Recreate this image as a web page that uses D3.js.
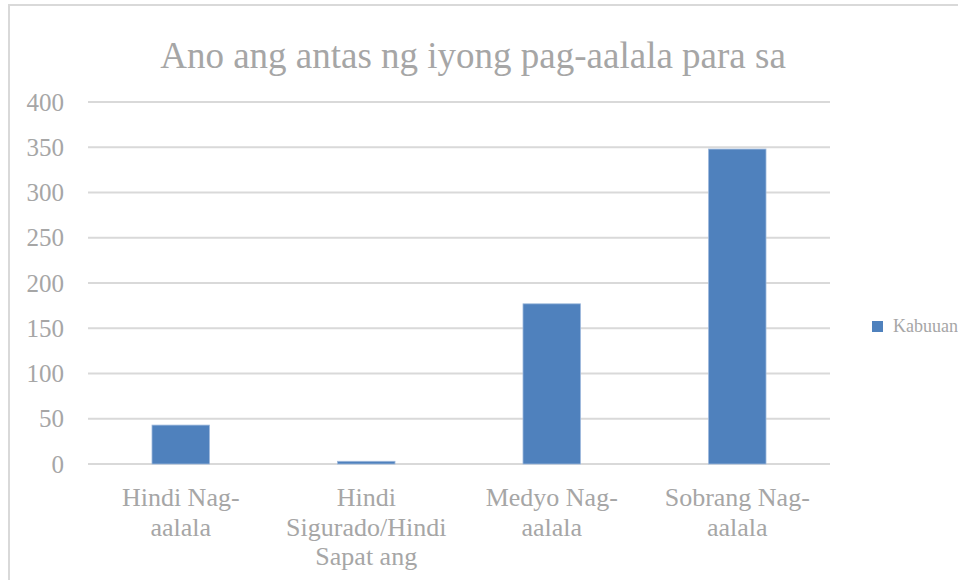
<!DOCTYPE html>
<html><head><meta charset="utf-8">
<script src="https://cdn.jsdelivr.net/npm/d3@7"></script>
<style>
html,body{margin:0;padding:0;background:#fff;}
svg{display:block;}
svg text{font-family:"Liberation Serif","Times New Roman",Times,serif;}
</style>
</head><body>
<svg id="chart" width="958" height="580"></svg>
<script>
const title = "Ano ang antas ng iyong pag-aalala para sa";
const categories = [
  ["Hindi Nag-", "aalala"],
  ["Hindi", "Sigurado/Hindi", "Sapat ang"],
  ["Medyo Nag-", "aalala"],
  ["Sobrang Nag-", "aalala"]
];
const values = [43, 3, 177, 348];
const seriesName = "Kabuuan";
const yTicks = [0, 50, 100, 150, 200, 250, 300, 350, 400];

(function () {
const svg = d3.select("#chart");
const textColor = "#a6a6a6";
const barColor = "#4f81bd";

// chart border
svg.append("rect").attr("x", 9).attr("y", 5).attr("width", 1000).attr("height", 600)
  .attr("fill", "none").attr("stroke", "#d9d9d9").attr("stroke-width", 2);

const pLeft = 88, pRight = 830, pTop = 102, pBottom = 464;
const x = d3.scaleBand().domain(d3.range(categories.length)).range([pLeft, pRight])
  .paddingInner(0.69).paddingOuter(0.345);
const y = d3.scaleLinear().domain([0, 400]).range([pBottom, pTop]);

// title
svg.append("text").attr("x", 473).attr("y", 68).attr("text-anchor", "middle")
  .attr("font-size", 37).attr("fill", textColor).text(title);

// gridlines
svg.append("g").selectAll("line").data(yTicks).join("line")
  .attr("x1", pLeft).attr("x2", pRight)
  .attr("y1", d => y(d)).attr("y2", d => y(d))
  .attr("stroke", "#d9d9d9").attr("stroke-width", 2);

// y axis labels
const yAxis = d3.axisLeft(y).tickValues(yTicks).tickSize(0).tickPadding(0);
const gy = svg.append("g").attr("transform", `translate(${pLeft - 24},0)`).call(yAxis);
gy.select(".domain").remove();
gy.attr("font-family", null);
gy.selectAll("text").attr("font-size", 25).attr("fill", textColor);

// bars
svg.append("g").selectAll("rect").data(values).join("rect")
  .attr("x", (d, i) => x(i)).attr("width", x.bandwidth())
  .attr("y", d => y(d)).attr("height", d => y(0) - y(d))
  .attr("fill", barColor).attr("stroke", "#9fb9dc").attr("stroke-width", 0.8);

// x labels
const gx = svg.append("g");
categories.forEach((lines, i) => {
  const t = gx.append("text").attr("text-anchor", "middle")
    .attr("font-size", 26).attr("fill", textColor);
  lines.forEach((ln, j) => {
    t.append("tspan").attr("x", x(i) + x.bandwidth() / 2).attr("y", 506 + j * 29.5).text(ln);
  });
});

// legend
const lg = svg.append("g").attr("transform", "translate(872,321)");
lg.append("rect").attr("width", 11).attr("height", 11).attr("fill", barColor);
lg.append("text").attr("x", 21).attr("y", 11)
  .attr("font-size", 18).attr("fill", textColor).text(seriesName);
})();
</script>
</body></html>
